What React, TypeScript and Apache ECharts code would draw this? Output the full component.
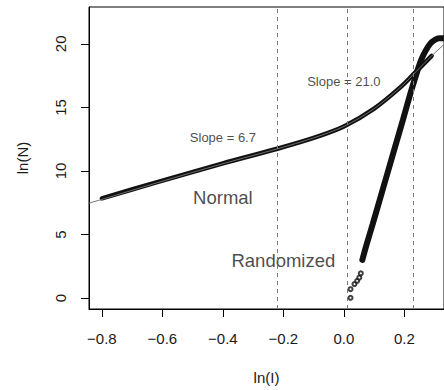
import React, { useEffect, useRef } from "react";
import * as echarts from "echarts";

// Normal (thick black band of dense points)
const normalX = [-0.80, -0.62, -0.40, -0.22, -0.10, 0.0, 0.10, 0.19, 0.24, 0.29];
const normalY = [7.85, 9.1, 10.6, 11.75, 12.6, 13.5, 14.9, 16.65, 17.85, 19.05];

// Fitted grey line through the Normal curve
const fitX = [-0.8426, -0.80, -0.62, -0.40, -0.22, -0.10, 0.0, 0.10, 0.19, 0.24, 0.29, 0.331];
const fitY = [7.47, 7.76, 9.05, 10.57, 11.74, 12.6, 13.5, 14.9, 16.65, 17.85, 19.05, 19.95];

// Randomized (dense band)
const randX = [0.061, 0.075, 0.095, 0.12, 0.145, 0.17, 0.195, 0.22, 0.24, 0.255, 0.27, 0.285, 0.30, 0.315, 0.331];
const randY = [3.0, 4.2, 5.8, 7.85, 9.9, 11.95, 14.0, 16.1, 17.65, 18.7, 19.45, 20.0, 20.3, 20.45, 20.45];

// Randomized, individually visible points at the low end
const randPtsX = [0.022, 0.022, 0.035, 0.044, 0.051, 0.056];
const randPtsY = [0.02, 0.7, 1.1, 1.36, 1.61, 1.95];

const cutoffs = [-0.22, 0.01, 0.235];

const xTicks = [-0.8, -0.6, -0.4, -0.2, 0.0, 0.2];
const yTicks = [0, 5, 10, 15, 20];

const annotations = [
  { x: -0.4, y: 12.6, text: "Slope = 6.7", size: 13 },
  { x: 0.0, y: 17.05, text: "Slope = 21.0", size: 13 },
  { x: -0.4, y: 7.9, text: "Normal", size: 18.5 },
  { x: -0.2, y: 2.95, text: "Randomized", size: 18.5 },
];

const FONT = "'Liberation Sans', Arial, Helvetica, sans-serif";

export default function App() {
  const ref = useRef<HTMLDivElement>(null);
  useEffect(() => {
    if (!ref.current) return;
    const chart = echarts.init(ref.current, null, { renderer: "svg" });
    const zip = (xs: number[], ys: number[]) => xs.map((x, i) => [x, ys[i]]);
    const fmt = (v: number) => v.toFixed(1).replace("-", "\u2212");
    chart.setOption({
      animation: false,
      backgroundColor: "#fff",
      textStyle: { fontFamily: FONT },
      grid: { left: 89, top: 7, right: -3, bottom: 80, show: true, borderColor: "#000", borderWidth: 1 },
      xAxis: {
        type: "value",
        min: -0.8426,
        max: 0.331,
        name: "ln(I)",
        nameLocation: "middle",
        nameGap: 61,
        nameTextStyle: { fontSize: 15, color: "#1a1a1a", fontFamily: FONT },
        axisLine: { show: true, onZero: false, lineStyle: { color: "#000", width: 1 } },
        axisTick: { show: true, length: 8, customValues: xTicks, lineStyle: { color: "#000" } },
        axisLabel: { customValues: xTicks, formatter: fmt, margin: 22, fontSize: 15, color: "#1a1a1a", fontFamily: FONT },
        splitLine: { show: false },
      },
      yAxis: {
        type: "value",
        min: -0.86,
        max: 22.9,
        name: "ln(N)",
        nameLocation: "middle",
        nameGap: 59,
        nameTextStyle: { fontSize: 15, color: "#1a1a1a", fontFamily: FONT },
        axisLine: { show: true, onZero: false, lineStyle: { color: "#000", width: 1 } },
        axisTick: { show: true, length: 8, customValues: yTicks, lineStyle: { color: "#000" } },
        axisLabel: { customValues: yTicks, rotate: 90, margin: 21, fontSize: 15, color: "#1a1a1a", fontFamily: FONT },
        splitLine: { show: false },
      },
      series: [
        {
          type: "line",
          data: zip(normalX, normalY),
          showSymbol: false,
          smooth: 0.3,
          lineStyle: { color: "#111", width: 4.5, cap: "round" },
          markLine: {
            silent: true,
            symbol: "none",
            label: { show: false },
            lineStyle: { color: "#7a7a7a", width: 1, type: [4, 4] },
            data: cutoffs.map((c) => ({ xAxis: c })),
          },
          z: 2,
        },
        {
          type: "line",
          data: zip(randX, randY),
          showSymbol: false,
          smooth: 0.3,
          lineStyle: { color: "#111", width: 6, cap: "round" },
          z: 2,
        },
        {
          type: "line",
          data: zip(fitX, fitY),
          showSymbol: false,
          smooth: 0.3,
          lineStyle: { color: "#6e6e6e", width: 1 },
          z: 3,
        },
        {
          type: "scatter",
          data: zip(randPtsX, randPtsY),
          symbol: "emptyCircle",
          symbolSize: 4,
          itemStyle: { color: "#111", borderWidth: 1 },
          z: 3,
        },
        {
          type: "scatter",
          symbolSize: 0,
          silent: true,
          data: annotations.map((a) => ({
            value: [a.x, a.y],
            label: {
              show: true,
              position: "inside",
              formatter: a.text,
              fontSize: a.size,
              color: "#1a1a1a",
              fontFamily: FONT,
            },
          })),
          z: 4,
        },
      ],
    });
    return () => chart.dispose();
  }, []);
  return <div ref={ref} style={{ position: "absolute", left: 0, top: 0, width: 444, height: 390 }} />;
}
